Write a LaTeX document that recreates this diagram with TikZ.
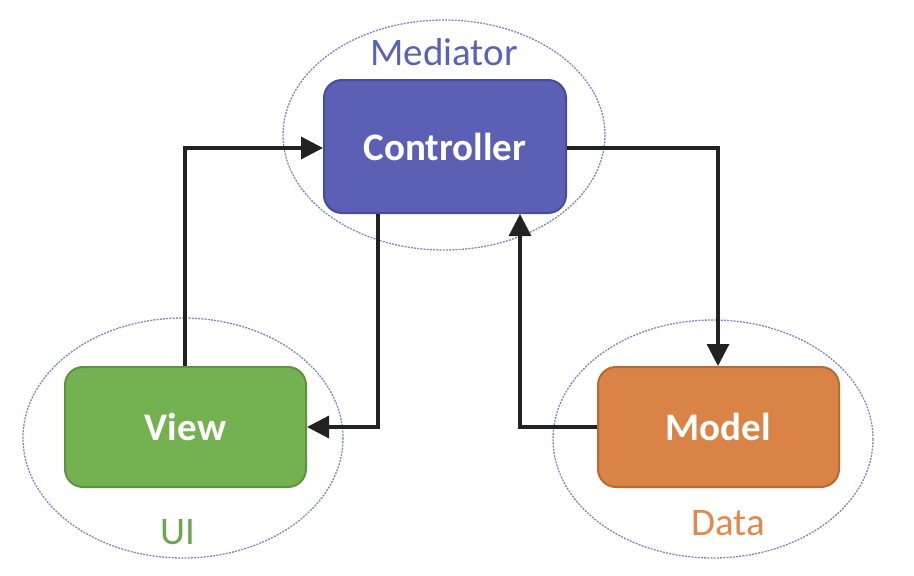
\documentclass[tikz,border=0pt]{standalone}
\usepackage{fontspec}
\setmainfont{Carlito}
\usetikzlibrary{arrows.meta}
\definecolor{ctrlfill}{HTML}{5B60B5}
\definecolor{ctrldraw}{HTML}{474C9A}
\definecolor{viewfill}{HTML}{74B151}
\definecolor{viewdraw}{HTML}{5E9440}
\definecolor{modfill}{HTML}{D98446}
\definecolor{moddraw}{HTML}{B86A33}
\definecolor{elcol}{HTML}{7C87C4}
\definecolor{medtext}{HTML}{5A62B8}
\definecolor{uitext}{HTML}{6AA84F}
\definecolor{datatext}{HTML}{E0894A}
\definecolor{linecol}{HTML}{222222}
\tikzset{
  box/.style={rounded corners=18pt, line width=2pt, minimum width=241pt, text=white, font=\fontsize{39}{44}\selectfont\bfseries},
  group/.style={draw=elcol, line width=1.3pt, dash pattern=on 2pt off 1.2pt},
  grouplabel/.style={font=\fontsize{39}{44}\selectfont},
  conn/.style={draw=linecol, line width=3.2pt, -{Triangle[length=22pt,width=22pt]}}
}
\begin{document}
\begin{tikzpicture}[x=1pt,y=-1pt]
\useasboundingbox (0,0) rectangle (914,576);
\fill[white] (0,0) rectangle (914,576);
% groups
\draw[group] (444,135) ellipse [x radius=161, y radius=115];
\draw[group] (183,438) ellipse [x radius=160, y radius=120];
\draw[group] (713,439) ellipse [x radius=160, y radius=119];
% boxes
\node[box, fill=ctrlfill, draw=ctrldraw, minimum width=242pt, minimum height=133pt] (ctrl) at (445,146.5) {Controller};
\node[box, fill=viewfill, draw=viewdraw, minimum height=120pt] (view) at (185.5,427) {View};
\node[box, fill=modfill, draw=moddraw, minimum height=120pt] (model) at (718.5,427) {Model};
% labels
\node[grouplabel, text=medtext] (med) at (444,52) {Mediator};
\node[grouplabel, text=uitext] (ui) at (178,532) {UI};
\node[grouplabel, text=datatext] (data) at (728,523) {Data};
% connectors
\coordinate (c1) at (185,148);
\coordinate (c2) at (718,148);
\coordinate (c3) at (378,427);
\coordinate (c4) at (520,427);
\draw[conn] (view.north -| c1) -- (c1) -- (ctrl.west |- c1);
\draw[conn] (ctrl.east |- c2) -- (c2) -- (model.north -| c2);
\draw[conn] (ctrl.south -| c3) -- (c3) -- (view.east |- c3);
\draw[conn] (model.west |- c4) -- (c4) -- (ctrl.south -| c4);
\end{tikzpicture}
\end{document}
